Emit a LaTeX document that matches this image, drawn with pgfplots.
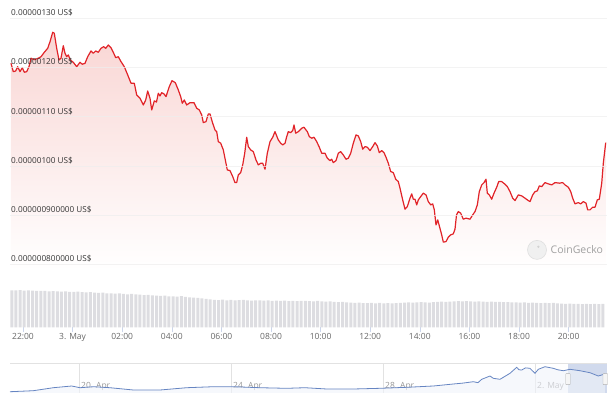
\documentclass[border=0pt]{standalone}
\usepackage{pgfplots}
\pgfplotsset{compat=1.18}
\usepackage{pgfplotstable}
\usepackage{fontspec}
\setmainfont{Open Sans}
\definecolor{linecol}{RGB}{225,35,40}
\definecolor{fillcol}{RGB}{249,214,212}
\definecolor{gridcol}{RGB}{238,238,238}
\definecolor{ylab}{RGB}{51,51,51}
\definecolor{xlab}{RGB}{102,102,102}
\definecolor{volcol}{RGB}{221,221,225}
\definecolor{tickcol}{RGB}{204,214,235}
\definecolor{navline}{RGB}{102,133,194}
\definecolor{navfill}{RGB}{240,243,250}
\definecolor{navgrid}{RGB}{226,226,226}
\definecolor{navlab}{RGB}{150,150,150}
\definecolor{selcol}{RGB}{102,133,194}
\definecolor{gecko}{RGB}{160,160,160}

% price, x = hours after 3 May 00:00, y = price in 1e-9 US$
\pgfplotstableread{
h v
-2.484 120.85
-2.391 119.15
-2.294 119.29
-2.214 120.16
-2.121 119.15
-2.028 119.96
-1.948 119.03
-1.851 119.15
-1.758 120.16
-1.677 121.87
-1.544 121.58
-1.383 121.87
-1.274 122.19
-1.141 123.08
-1.004 123.89
-0.911 125.23
-0.802 127.14
-0.738 126.94
-0.641 123.89
-0.548 121.52
-0.468 121.87
-0.375 124.42
-0.306 122.88
-0.238 122.19
-0.173 122.54
-0.093 121.52
0.028 121.05
0.165 120.16
0.298 121.05
0.391 120.65
0.500 120.85
0.609 122.19
0.742 123.35
0.835 122.88
0.931 123.35
1.036 123.08
1.145 123.89
1.254 124.22
1.335 123.89
1.440 124.56
1.548 124.02
1.641 123.08
1.738 121.99
1.843 122.19
1.952 121.18
2.085 120.16
2.222 118.48
2.355 116.80
2.488 116.80
2.585 114.42
2.718 113.75
2.851 112.39
2.948 113.41
3.028 115.23
3.121 113.75
3.190 111.38
3.294 113.21
3.383 113.00
3.456 114.77
3.524 114.22
3.593 114.89
3.685 114.63
3.766 114.08
3.899 116.11
4.008 117.32
4.141 116.92
4.262 115.44
4.359 114.08
4.423 112.74
4.504 113.41
4.600 112.39
4.734 112.86
4.895 112.86
5.004 111.73
5.109 111.38
5.206 110.37
5.270 108.81
5.379 109.01
5.472 110.57
5.540 110.57
5.649 108.68
5.742 107.32
5.810 106.98
5.875 104.95
5.972 104.63
6.077 103.27
6.157 101.24
6.238 99.21
6.347 99.07
6.456 97.85
6.548 96.64
6.617 96.64
6.681 98.20
6.778 98.67
6.859 100.23
6.940 102.60
7.020 105.84
7.085 103.94
7.181 103.27
7.286 102.92
7.395 101.24
7.488 100.23
7.585 100.57
7.665 100.57
7.758 99.35
7.851 102.60
7.960 104.95
8.069 105.84
8.161 106.98
8.230 106.11
8.294 105.30
8.391 104.63
8.472 104.28
8.565 104.63
8.633 105.97
8.698 106.98
8.794 106.78
8.875 107.18
8.927 108.34
8.996 106.66
9.101 106.98
9.238 107.67
9.331 107.87
9.411 107.32
9.464 106.98
9.544 105.97
9.641 105.64
9.734 105.84
9.843 104.95
9.948 103.82
10.044 102.60
10.177 102.60
10.270 101.59
10.379 101.10
10.448 101.38
10.512 100.69
10.621 101.10
10.714 102.60
10.810 102.92
10.915 102.25
11.024 101.38
11.117 101.59
11.214 102.60
11.319 104.63
11.427 106.31
11.520 106.11
11.617 104.95
11.698 103.41
11.790 103.94
11.883 103.82
11.992 103.13
12.101 103.94
12.194 104.75
12.286 104.08
12.367 102.72
12.464 103.13
12.556 102.72
12.637 101.79
12.730 100.57
12.827 98.87
12.931 98.67
13.028 97.33
13.133 96.84
13.202 95.50
13.294 93.47
13.403 91.24
13.496 91.77
13.605 93.47
13.673 94.35
13.738 93.27
13.806 93.27
13.875 92.11
13.940 93.13
14.036 93.80
14.141 94.49
14.250 94.14
14.343 92.78
14.440 92.11
14.520 92.32
14.585 91.10
14.653 88.06
14.722 89.07
14.786 87.86
14.883 86.03
14.948 84.55
15.056 84.67
15.149 85.56
15.246 86.03
15.350 86.23
15.419 87.19
15.480 90.09
15.552 90.76
15.649 90.43
15.754 89.21
15.863 89.42
16.024 89.21
16.133 90.09
16.226 90.76
16.319 92.11
16.399 94.81
16.496 96.17
16.589 96.64
16.669 97.33
16.722 94.49
16.802 94.14
16.899 93.27
16.992 94.49
17.101 95.70
17.181 96.84
17.302 96.84
17.435 96.31
17.528 95.83
17.637 94.81
17.746 93.47
17.839 92.99
17.972 94.14
18.109 93.94
18.242 93.47
18.375 92.99
18.444 92.78
18.552 94.14
18.645 94.81
18.738 94.95
18.819 95.97
18.915 95.83
19.048 96.64
19.181 96.38
19.319 96.17
19.452 96.64
19.625 96.52
19.762 96.64
19.855 96.17
19.988 95.70
20.085 94.81
20.165 93.47
20.258 92.32
20.391 92.58
20.488 92.32
20.593 92.78
20.702 92.46
20.770 91.10
20.863 91.10
20.972 91.65
21.065 91.65
21.157 93.13
21.238 93.27
21.335 96.52
21.399 100.57
21.496 104.75
}\pricedata

% volume bars, one per 10 minutes (relative units)
\pgfplotstableread{
v
37.2
37.0
37.3
36.8
37.1
36.9
36.5
36.7
36.6
36.2
36.4
36.0
35.8
36.1
35.6
35.5
35.9
35.3
35.0
35.4
34.8
34.6
34.9
34.2
34.0
33.8
34.1
33.5
33.2
33.6
33.0
32.8
32.4
32.7
32.0
31.8
31.5
31.9
31.2
31.0
30.8
31.3
30.5
30.2
29.8
29.5
29.0
28.6
28.0
27.6
27.4
27.8
27.2
27.5
27.0
27.3
27.6
27.1
26.9
27.2
27.0
26.8
27.1
26.6
26.9
26.5
26.8
26.4
26.7
26.3
26.5
26.6
26.4
26.2
26.5
26.0
25.8
26.1
25.6
25.4
25.7
25.2
24.9
24.6
24.8
24.4
24.3
24.6
24.2
24.5
24.1
24.4
24.0
24.3
24.6
24.9
25.2
24.8
25.0
25.4
25.1
24.9
25.3
25.6
25.8
25.5
25.9
26.2
26.4
26.1
26.3
26.0
25.8
26.2
25.9
25.6
25.8
25.5
25.7
25.3
25.4
25.1
25.0
24.8
25.1
24.7
24.9
24.6
24.4
24.7
24.3
24.5
24.2
23.9
23.6
23.8
23.5
23.7
23.4
23.6
23.3
23.5
23.4
23.6
}\voldata

% navigator, x = days after 3 May 00:00
\pgfplotstableread{
d v
-14.816 25.9
-14.203 30.1
-13.676 42.7
-13.192 49.9
-12.974 42.7
-12.624 46.9
-12.184 42.7
-11.571 33.1
-10.868 33.1
-10.166 42.7
-9.466 46.9
-8.939 46.9
-8.237 42.7
-7.534 40.2
-7.053 42.7
-6.482 37.3
-5.782 37.3
-5.079 40.2
-4.376 44.4
-3.676 49.9
-3.150 58.3
-2.900 62.0
-2.624 67.9
-2.500 64.0
-2.403 78.0
-2.184 91.9
-2.097 82.2
-1.921 78.0
-1.658 103.2
-1.482 128.4
-1.420 118.0
-1.350 117.1
-1.250 126.0
-1.132 124.2
-1.000 103.2
-0.913 120.0
-0.737 130.9
-0.518 124.2
-0.400 118.0
-0.255 114.1
-0.079 120.0
0.184 114.1
0.447 105.7
0.666 91.9
0.842 100.3
}\navdata

\begin{document}
\begin{tikzpicture}
\path[use as bounding box] (0pt,0pt) rectangle (610pt,393pt);

% ---------- price ----------
\begin{axis}[
  at={(10pt,123pt)}, anchor=south west, scale only axis,
  width=597pt, height=265pt,
  xmin=-2.524, xmax=21.548, ymin=78.9, ymax=132.68,
  axis line style={draw=none},
  axis on top,
  xtick=\empty,
  ytick={80,90,100,110,120,130},
  yticklabels={0.000000800000 US\$,0.000000900000 US\$,0.00000100 US\$,0.00000110 US\$,0.00000120 US\$,0.00000130 US\$},
  ymajorgrids, major grid style={gridcol, line width=0.6pt, opacity=0.7},
  major tick length=0pt, tick style={draw=none},
  yticklabel style={anchor=south west, inner sep=0pt, xshift=1pt, yshift=2pt,
    font=\fontsize{8.2}{9}\selectfont, text=ylab},
]
\addplot[draw=none, top color=fillcol, bottom color=white, forget plot] table[x=h, y=v] {\pricedata} -- (axis cs:21.496,78.9) -- (axis cs:-2.484,78.9) -- cycle;
\addplot[linecol, line width=1.2pt, line join=round] table[x=h, y=v] {\pricedata};
\node[circle, fill=gray!12, draw=gray!25, line width=0.6pt, minimum size=19pt, inner sep=0pt] at (axis cs:18.726,82.98) {};
\node[circle, fill=gray!35, minimum size=2.5pt, inner sep=0pt] at (axis cs:18.78,83.6) {};
\node[anchor=west, inner sep=0pt, font=\fontsize{10.5}{12}\selectfont, text=gecko] at (axis cs:19.27,82.98) {CoinGecko};
\end{axis}

% ---------- volume ----------
\begin{axis}[
  at={(10pt,65.5pt)}, anchor=south west, scale only axis,
  width=597pt, height=40.5pt,
  xmin=-2.524, xmax=21.548, ymin=0, ymax=40.5,
  axis line style={draw=none},
  ytick=\empty,
  xtick={-2,0,2,4,6,8,10,12,14,16,18,20},
  xticklabels={22:00,3. May,02:00,04:00,06:00,08:00,10:00,12:00,14:00,16:00,18:00,20:00},
  xtick pos=bottom, tick align=outside, major tick length=5pt,
  tick style={tickcol, line width=0.6pt},
  xticklabel style={font=\fontsize{8.5}{10}\selectfont, text=xlab, inner sep=1pt},
  ybar, bar width=3pt, bar shift=0pt,
]
\addplot[fill=volcol, draw=none] table[x expr=\coordindex/6-2.45, y=v] {\voldata};
\end{axis}

% ---------- navigator ----------
\begin{axis}[
  at={(10pt,0pt)}, anchor=south west, scale only axis,
  width=597pt, height=30pt,
  xmin=-14.816, xmax=0.895, ymin=20.5, ymax=146.5,
  axis line style={draw=none},
  ytick=\empty,
  xtick={-13,-9,-5,-1},
  xticklabels={20. Apr,24. Apr,28. Apr,2. May},
  xmajorgrids, major grid style={navgrid, line width=0.6pt},
  major tick length=0pt, tick style={draw=none},
  xticklabel style={anchor=south west, inner sep=0pt, xshift=2pt, yshift=2.5pt,
    font=\fontsize{8.5}{10}\selectfont, text=navlab},
  clip=false,
]
\draw[navgrid, line width=0.8pt] (axis cs:-14.816,144) -- (axis cs:0.895,144);
\fill[selcol, opacity=0.3] (axis cs:-0.132,20.5) rectangle (axis cs:0.895,144);
\addplot[fill=navfill, fill opacity=0.6, draw=none] table[x=d, y=v] {\navdata} \closedcycle;
\addplot[navline, line width=0.8pt] table[x=d, y=v] {\navdata};
\node[draw=gray!60, fill=gray!8, minimum width=4.5pt, minimum height=11pt, inner sep=0pt, rounded corners=0.5pt] at (axis cs:-0.132,79) {};
\node[draw=gray!60, fill=gray!8, minimum width=4.5pt, minimum height=11pt, inner sep=0pt, rounded corners=0.5pt] at (axis cs:0.85,79) {};
\end{axis}
\end{tikzpicture}
\end{document}
